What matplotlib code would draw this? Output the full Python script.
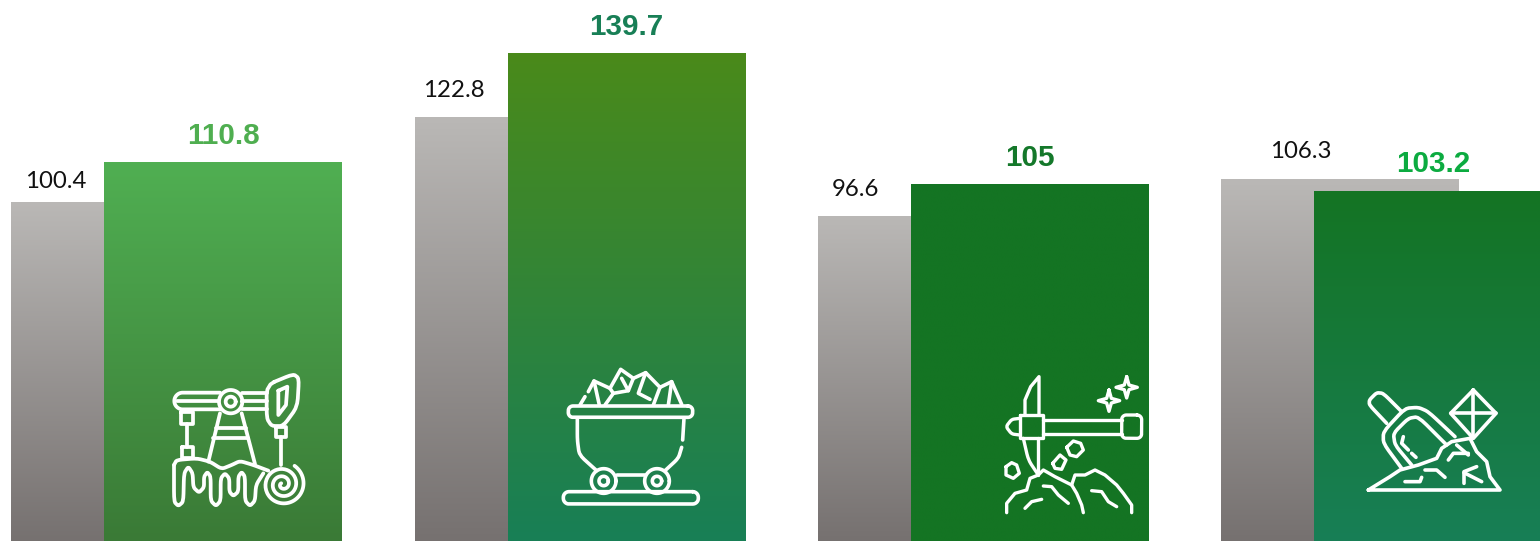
import numpy as np
import matplotlib
matplotlib.use("Agg")
import matplotlib.pyplot as plt
from matplotlib.colors import LinearSegmentedColormap

# ---- data ----
groups = [0, 1, 2, 3]
gray_values = [100.4, 122.8, 96.6, 106.3]
green_values = [110.8, 139.7, 105.0, 103.2]
gray_labels = ["100.4", "122.8", "96.6", "106.3"]
green_labels = ["110.8", "139.7", "105", "103.2"]

# ---- styles ----
gray_grad = ("#BAB8B6", "#767170")
green_grads = [("#50AF52", "#3A7A36"), ("#4A8A1A", "#187F56"),
               ("#147423", "#147423"), ("#147423", "#187F56")]
green_label_colors = ["#4FAE50", "#187F56", "#14782A", "#0CAB40"]
gray_label_dx = [-74, -80, -81, -39]   # px offset from bar centre
gray_label_dy = [20, 26, 26, 28]       # px above bar top
green_label_dy = 26.5

W, H = 1540, 541
SPACING = 403.4
Y_PER_PX = 1 / 3.78
Y_BASE = 10.6
BAR_W = 237.6 / SPACING
OFFSET = 46.5 / SPACING
X0_PX = 176.5

fig = plt.figure(figsize=(W / 100, H / 100), dpi=100)
ax = fig.add_axes([0, 0, 1, 1])
ax.axis("off")


def grad_bar(x, top, colors, z):
    bars = ax.bar(x, top - Y_BASE, BAR_W, bottom=Y_BASE, color="none", linewidth=0, zorder=z)
    cmap = LinearSegmentedColormap.from_list("g", colors)
    im = ax.imshow(np.linspace(0, 1, 256)[:, None], cmap=cmap, aspect="auto",
                   extent=(x - BAR_W / 2, x + BAR_W / 2, Y_BASE, top),
                   origin="upper", zorder=z, interpolation="bilinear")
    im.set_clip_path(bars[0])


px = 1 * 72 / 100  # points per pixel
for i, g in enumerate(groups):
    xg, xc = g - OFFSET, g + OFFSET
    grad_bar(xg, gray_values[i], gray_grad, 1)
    grad_bar(xc, green_values[i], green_grads[i], 2)
    ax.annotate(gray_labels[i], (xg, gray_values[i]),
                xytext=(gray_label_dx[i] * px, gray_label_dy[i] * px),
                textcoords="offset points", ha="center", va="center",
                family="Lato", fontsize=17.3, color="#111111", zorder=5)
    ax.annotate(green_labels[i], (xc, green_values[i]),
                xytext=(0, green_label_dy * px), textcoords="offset points",
                ha="center", va="center", family="Liberation Sans",
                fontweight="bold", fontsize=21.3, color=green_label_colors[i], zorder=5)

ax.set_xlim(-X0_PX / SPACING, (W - X0_PX) / SPACING)
ax.set_ylim(Y_BASE, Y_BASE + H * Y_PER_PX)

# ---- decorative white icons, on an overlay in pixel coordinates ----
ov = fig.add_axes([0, 0, 1, 1])
ov.axis("off")
ov.patch.set_alpha(0)
ov.set_xlim(0, W)
ov.set_ylim(H, 0)


def chaikin(p, closed=False, n=2, q=0.17):
    p = np.asarray(p, float)
    for _ in range(n):
        if closed:
            a, b = p, np.roll(p, -1, axis=0)
            p = np.column_stack([(1 - q) * a + q * b, q * a + (1 - q) * b]).reshape(-1, 2)
        else:
            a, b = p[:-1], p[1:]
            mid = np.column_stack([(1 - q) * a + q * b, q * a + (1 - q) * b]).reshape(-1, 2)
            p = np.vstack([p[0], mid, p[-1]])
    return p


def icon(org, lw):
    def draw(pts, smooth=False, closed=False):
        p = np.asarray(pts, float)
        if smooth:
            p = chaikin(p, closed)
        if closed:
            p = np.vstack([p, p[0]])
        ov.plot(org[0] + p[:, 0] / 3, org[1] + p[:, 1] / 3, color="white", lw=lw,
                solid_capstyle="round", solid_joinstyle="round", zorder=10)
    return draw


def circ(c, r, a0=0, a1=2 * np.pi):
    t = np.linspace(a0, a1, 60)
    return np.column_stack([c[0] + r * np.cos(t), c[1] + r * np.sin(t)])


def rect(x0, x1, y0, y1):
    return [(x0, y0), (x1, y0), (x1, y1), (x0, y1)]


def rrect(x0, x1, y0, y1, r):
    hp = np.pi / 2
    return np.vstack([circ((x1 - r, y0 + r), r, -hp, 0),
                      circ((x1 - r, y1 - r), r, 0, hp),
                      circ((x0 + r, y1 - r), r, hp, 2 * hp),
                      circ((x0 + r, y0 + r), r, 2 * hp, 3 * hp)])


def star(cx, cy, r):
    k = r * 0.22
    return [(cx, cy - r), (cx + k, cy - k), (cx + r, cy), (cx + k, cy + k),
            (cx, cy + r), (cx - k, cy + k), (cx - r, cy), (cx - k, cy - k)]


# pump jack
d = icon((0, 350), 2.7)
d(np.vstack([[(660, 128)], circ((548, 153), 25, -np.pi / 2, -3 * np.pi / 2), [(660, 178)]]))
d([(530, 152), (655, 152)])
for y in (128, 152, 178):
    d([(725, y), (800, y)])
d(circ((692, 155), 35))
d(circ((692, 155), 15))
d(rect(543, 580, 185, 222), closed=True)
d([(560, 222), (560, 290)])
d(rect(545, 580, 290, 325), closed=True)
d([(660, 190), (625, 335)])
d([(725, 190), (765, 342)])
d([(648, 235), (737, 235)])
d([(640, 265), (745, 265)])
d([(800, 105), (880, 72), (897, 85), (892, 170), (850, 228), (815, 228), (800, 205)], True, True)
d([(835, 122), (862, 110), (858, 165), (835, 195)], False, True)
d(rect(827, 857, 232, 262), closed=True)
d([(842, 262), (842, 345)])
d([(522, 345), (530, 330), (590, 325), (630, 335), (665, 357), (695, 345), (720, 333),
   (760, 345), (805, 362)], True)
d([(522, 345), (522, 455), (535, 468), (550, 455), (552, 370), (565, 350), (578, 370),
   (580, 412), (597, 428), (612, 412), (612, 380), (622, 366), (632, 380), (632, 452),
   (648, 468), (662, 452), (662, 385), (675, 370), (688, 385), (688, 425), (700, 438),
   (715, 425), (715, 380), (725, 366), (735, 380), (735, 452), (750, 468), (765, 452),
   (768, 405), (790, 370)], True)
t = np.linspace(-1.0, 2 * np.pi * 2.6, 220)
rr = 66 - (t + 1.0) * 3.5
d(np.column_stack([848 + rr * np.cos(t), 403 + rr * np.sin(t)]))

# mine cart
d = icon((500, 350), 2.6)
d(rrect(205, 578, 168, 202, 14), closed=True)
d([(232, 205), (232, 270), (238, 315), (290, 362)], True)
d([(552, 205), (548, 270)])
d([(545, 292), (535, 325), (495, 362)], True)
d([(350, 375), (435, 375)])
for cx in (311, 471):
    d(circ((cx, 393), 37))
    d(circ((cx, 393), 14))
d(rrect(190, 595, 425, 462, 17), closed=True)
d([(240, 165), (255, 140)])
d([(265, 125), (282, 93), (330, 115), (362, 58), (400, 85), (437, 68), (480, 112),
   (515, 95), (545, 163)])
d([(282, 93), (298, 165)])
d([(330, 115), (340, 130), (315, 165)])
d([(340, 130), (385, 122), (365, 85)])
d([(400, 85), (385, 122)])
d([(437, 68), (415, 130), (450, 148)])
d([(480, 112), (460, 165)])
d([(515, 95), (505, 165)])

# pickaxe
d = icon((960, 360), 2.4)
d(rect(180, 250, 165, 235), closed=True)
d([(180, 175), (155, 178), (138, 200), (155, 222), (180, 225)], True)
d([(250, 180), (485, 180)])
d([(250, 222), (485, 222)])
d(rrect(485, 545, 165, 235, 14), closed=True)
d([(195, 165), (195, 120), (212, 80), (237, 50), (237, 165)])
d([(190, 235), (205, 300), (235, 345)], True)
d([(235, 235), (235, 345)])
d(star(447, 122, 32), closed=True)
d(star(500, 82, 32), closed=True)
d([(320, 262), (340, 243), (362, 250), (370, 270), (350, 290), (330, 285)], closed=True)
d([(278, 310), (300, 285), (318, 300), (305, 328), (285, 325)], closed=True)
d([(138, 320), (155, 308), (170, 315), (178, 340), (160, 355), (138, 345)], closed=True)
d([(140, 458), (140, 430), (165, 400), (200, 390), (210, 355), (235, 345), (250, 330),
   (285, 350), (335, 375), (345, 345), (375, 345), (405, 330), (435, 345), (470, 375),
   (490, 400), (515, 435), (515, 458)])
d([(335, 375), (350, 400), (365, 435), (370, 458)])
d([(250, 378), (275, 380), (295, 405), (325, 430)])
d([(195, 445), (215, 425), (245, 418)])
d([(395, 392), (425, 395), (445, 425), (470, 440)])

# shovel and gem
d = icon((1340, 370), 2.6)
d([(185, 125), (130, 70), (110, 68), (88, 90), (88, 105), (140, 160)], True)
d([(185, 295), (130, 220), (130, 185), (195, 115), (235, 112), (265, 125), (345, 200)], True)
d([(215, 285), (165, 225), (160, 190), (205, 145), (235, 140), (320, 225)], True)
d([(85, 360), (150, 320), (180, 300), (235, 285), (290, 265), (305, 235), (335, 215),
   (390, 205), (410, 245), (440, 275), (450, 320), (480, 360)], closed=True)
d([(400, 60), (468, 130), (400, 205), (332, 130)], closed=True)
d([(332, 130), (468, 130)])
d([(400, 60), (400, 205)])
d([(190, 200), (185, 220), (205, 240)])
d([(215, 250), (228, 262)])
d([(325, 270), (340, 250), (385, 250)])
d([(350, 225), (385, 255)])
d([(372, 340), (372, 305), (410, 290)])
d([(372, 308), (425, 335)])
d([(195, 335), (240, 335), (245, 322)])
d([(255, 300), (290, 300), (315, 322)])

fig.savefig("out.png", dpi=100, facecolor="white")
